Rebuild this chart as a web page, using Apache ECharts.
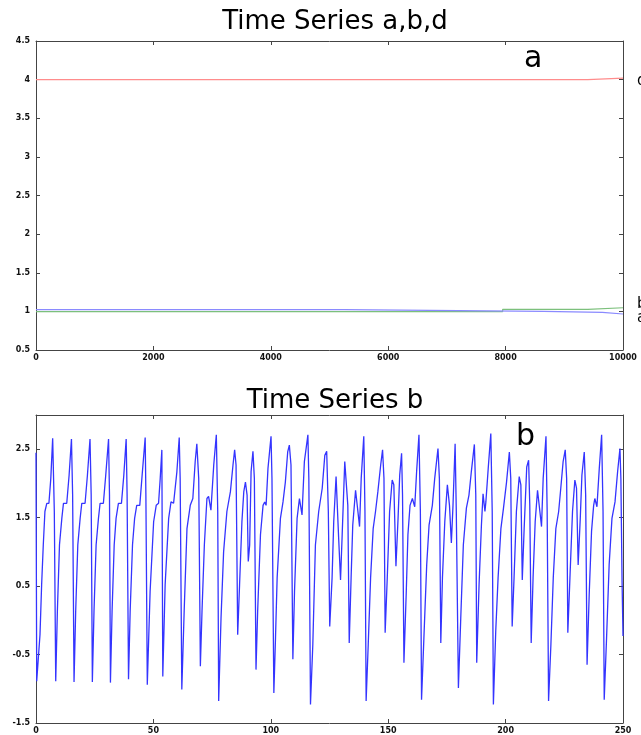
<!DOCTYPE html>
<html><head><meta charset="utf-8">
<script src="https://cdn.jsdelivr.net/npm/echarts@6/dist/echarts.min.js"></script>
<style>html,body{margin:0;padding:0;background:#fff}#c{width:641px;height:735px}</style>
</head><body><div id="c"></div>
<script>
// ---- Top chart: time series a, b, d (step changes) ----
const dTime  = [0, 9400, 10000];
const dValue = [4.0, 4.02, 4.02];
const aTime  = [0, 5250, 8650, 9650, 10000];
const aValue = [1.022, 1.0, 0.987, 0.966, 0.966];
const bTopTime  = [0, 7950, 9400, 10000];
const bTopValue = [0.998, 1.026, 1.047, 1.047];

// ---- Bottom chart: time series b (key points) ----
const bTime = [
 0,0.3,1.7,2.4,3.1,3.8,4.6,5.5,6.3,7.1,7.8,8.4,
 9.1,10.0,11.0,11.7,13.1,14.1,15.1,15.6,16.2,
 16.9,17.8,18.8,19.5,20.9,21.9,23.0,23.5,24.0,
 24.7,25.6,26.6,27.3,28.7,29.7,30.9,31.3,31.7,
 32.4,33.3,34.1,35.1,36.4,37.4,38.4,38.8,39.4,
 40.1,41.1,42.0,42.9,44.2,45.2,46.5,46.8,47.4,
 48.6,50.1,51.2,52.2,52.9,53.6,54.0,
 55.0,56.5,57.5,58.6,60.0,61.0,61.4,62.1,
 63.1,64.3,65.7,66.8,67.8,68.5,69.3,70.0,
 70.7,71.7,72.8,73.5,74.5,75.7,76.8,77.4,77.8,
 78.8,79.9,81.3,82.8,83.9,84.6,85.2,85.9,
 86.7,87.7,88.5,89.2,89.9,90.4,91.0,91.6,92.4,93.0,93.7,
 94.4,95.6,96.7,97.4,98.0,98.8,100.1,100.5,101.3,
 102.0,102.7,104.1,105.2,106.2,107.2,107.9,108.6,109.4,
 110.1,111.2,112.2,113.3,114.3,115.8,116.2,116.9,
 117.9,119.0,120.4,121.9,123.0,123.8,124.5,125.1,
 126.1,126.8,127.8,128.9,129.7,130.4,131.5,132.3,132.8,133.4,
 134.2,134.9,136.1,137.1,137.8,138.5,139.6,140.1,140.6,
 141.5,142.5,143.6,144.6,145.6,146.8,147.6,148.2,148.7,
 149.6,150.6,151.7,152.4,153.3,154.2,154.9,155.7,156.1,156.7,
 157.7,158.4,159.3,160.3,161.3,162.1,163.1,163.7,164.2,
 165.2,166.4,167.4,168.8,169.8,171.2,171.8,172.4,
 173.1,174.1,175.2,176.1,176.9,177.6,178.5,179.0,179.9,
 180.9,182.0,183.3,184.4,185.4,186.7,187.3,187.7,
 188.7,189.7,190.4,191.2,191.6,192.6,193.7,194.3,194.8,
 195.8,196.8,198.0,199.1,200.4,201.6,202.2,202.8,
 203.6,204.6,205.8,206.5,207.1,207.9,209.0,209.8,210.3,210.9,
 211.7,212.6,213.6,214.6,215.3,216.0,217.2,217.7,218.3,
 219.3,220.3,221.4,222.6,223.5,224.5,225.4,226.0,226.5,
 227.4,228.5,229.5,230.2,230.9,231.8,232.5,233.5,234.1,234.7,
 235.6,236.6,237.5,238.0,238.9,239.9,240.9,241.5,242.0,
 243.0,244.1,245.3,246.6,247.7,248.7,249.1,249.6,250.0
];
const bValue = [
 2.45,-0.89,-0.21,0.52,1.10,1.59,1.71,1.71,2.07,2.66,1.59,-0.89,
 0.13,1.10,1.49,1.71,1.71,2.12,2.65,1.83,-0.90,
 0.13,1.10,1.49,1.71,1.71,2.12,2.65,1.83,-0.90,
 0.13,1.10,1.49,1.71,1.71,2.12,2.65,1.83,-0.91,
 0.13,1.10,1.49,1.71,1.71,2.12,2.65,1.83,-0.86,
 0.13,1.10,1.49,1.68,1.68,2.12,2.67,1.83,-0.94,
 0.42,1.44,1.68,1.71,2.07,2.49,-0.82,
 0.52,1.49,1.73,1.71,2.17,2.67,2.07,-1.01,
 0.13,1.34,1.68,1.78,2.32,2.58,2.07,-0.67,
 0.13,1.10,1.78,1.81,1.61,2.27,2.71,1.59,-1.18,
 0.03,1.00,1.59,1.88,2.27,2.49,2.27,-0.21,
 0.52,1.44,1.88,2.02,1.83,0.86,1.10,2.17,2.47,2.07,-0.72,
 0.13,1.25,1.68,1.73,1.68,2.22,2.69,2.07,-1.06,
 -0.26,0.62,1.49,1.73,2.02,2.46,2.56,2.27,-0.57,
 0.42,1.49,1.78,1.54,2.32,2.71,2.07,-1.23,
 -0.35,1.10,1.59,1.93,2.41,2.47,1.59,-0.09,
 0.62,1.44,2.10,1.20,0.59,1.25,2.32,2.34,1.68,-0.33,
 0.62,1.39,1.90,1.59,1.37,2.07,2.69,1.59,-1.18,
 -0.35,0.62,1.34,1.59,1.88,2.27,2.49,2.07,-0.18,
 0.62,1.59,2.05,1.98,0.79,1.49,2.12,2.44,1.83,-0.62,
 0.42,1.25,1.68,1.78,1.66,2.17,2.71,1.59,-1.16,
 -0.26,0.81,1.39,1.68,2.07,2.51,2.07,-0.33,
 0.62,1.44,1.98,1.68,1.13,1.68,2.58,1.59,-0.99,
 0.03,1.10,1.64,1.83,2.17,2.57,1.83,-0.62,
 0.52,1.39,1.85,1.59,1.73,2.22,2.73,1.59,-1.23,
 -0.16,0.62,1.34,1.64,2.02,2.46,2.07,-0.09,
 0.62,1.59,2.10,1.98,0.59,1.34,2.24,2.34,1.68,-0.33,
 0.62,1.44,1.90,1.59,1.37,2.07,2.69,1.59,-1.18,
 -0.35,0.62,1.34,1.59,1.93,2.32,2.49,2.07,-0.18,
 0.62,1.59,2.05,1.93,0.81,1.49,2.12,2.46,1.83,-0.65,
 0.37,1.30,1.68,1.78,1.66,2.22,2.71,1.59,-1.16,
 -0.26,0.81,1.49,1.73,2.17,2.51,2.07,0.57,-0.23
];

// ---- Axis settings ----
const topXTicks = { min: 0, max: 10000, interval: 2000 };
const topYTicks = { min: 0.5, max: 4.5, interval: 0.5 };
const botXTicks = { min: 0, max: 250, interval: 50 };
const botYLabels = [-1.5, -0.5, 0.5, 1.5, 2.5];
const botYRange = { min: -1.5, max: 3 };

const pairs = (xs, ys) => xs.map((x, i) => [x, ys[i]]);
const plain = v => String(v);

const lbl = { fontFamily: 'DejaVu Sans', fontSize: 8, color: '#111', fontWeight: 'bold', formatter: plain };
const lineStyle = { lineStyle: { color: '#444', width: 1 } };
const tick = { show: true, inside: true, length: 4, lineStyle: { color: '#444', width: 1 } };

function ax(extra) {
  return Object.assign({
    type: 'value', splitLine: { show: false }, axisLine: Object.assign({ show: true, onZero: false }, lineStyle),
    axisTick: tick
  }, extra);
}

const titleStyle = { fontFamily: 'DejaVu Sans', fontSize: 26, fontWeight: 'normal', color: '#000' };

const chart = echarts.init(document.getElementById('c'), null, { renderer: 'canvas' });
chart.setOption({
  animation: false,
  backgroundColor: '#fff',
  title: [
    { text: 'Time Series a,b,d', left: 330, top: 4, textAlign: 'center', textStyle: titleStyle },
    { text: 'Time Series b', left: 330, top: 383, textAlign: 'center', textStyle: titleStyle }
  ],
  grid: [
    { left: 36, right: 18, top: 41, height: 309 },
    { left: 36, right: 18, top: 415, height: 311 }
  ],
  xAxis: [
    ax(Object.assign({ gridIndex: 0, position: 'bottom', axisLabel: Object.assign({ margin: 4 }, lbl) }, topXTicks)),
    ax(Object.assign({ gridIndex: 0, position: 'top', axisLabel: { show: false } }, topXTicks)),
    ax(Object.assign({ gridIndex: 1, position: 'bottom', axisLabel: Object.assign({ margin: 4 }, lbl) }, botXTicks)),
    ax(Object.assign({ gridIndex: 1, position: 'top', axisLabel: { show: false } }, botXTicks))
  ],
  yAxis: [
    ax(Object.assign({ gridIndex: 0, position: 'left', axisLabel: Object.assign({ margin: 6 }, lbl) }, topYTicks)),
    ax(Object.assign({ gridIndex: 0, position: 'right', axisLabel: { show: false } }, topYTicks)),
    ax(Object.assign({ gridIndex: 1, position: 'left', interval: 0.5,
      axisLabel: Object.assign({ margin: 6, customValues: botYLabels }, lbl),
      axisTick: Object.assign({}, tick, { customValues: botYLabels }) }, botYRange)),
    ax(Object.assign({ gridIndex: 1, position: 'right', interval: 0.5, axisLabel: { show: false },
      axisTick: Object.assign({}, tick, { customValues: botYLabels }) }, botYRange))
  ],
  graphic: [
    { type: 'text', left: 524, top: 44, style: { text: 'a', font: '30px "DejaVu Sans"', fill: '#000' } },
    { type: 'text', left: 516, top: 422, style: { text: 'b', font: '30px "DejaVu Sans"', fill: '#000' } }
  ],
  series: [
    { name: 'd', type: 'line', xAxisIndex: 0, yAxisIndex: 0, step: 'end', showSymbol: false,
      data: pairs(dTime, dValue), lineStyle: { color: '#ff8c8c', width: 1.2 },
      endLabel: { show: true, formatter: 'd', offset: [6, 3], fontFamily: 'DejaVu Sans', fontSize: 15, color: '#000' } },
    { name: 'b', type: 'line', xAxisIndex: 0, yAxisIndex: 0, step: 'end', showSymbol: false,
      data: pairs(bTopTime, bTopValue), lineStyle: { color: '#7cc07c', width: 1.2 },
      endLabel: { show: true, formatter: 'b', offset: [6, -4], fontFamily: 'DejaVu Sans', fontSize: 15, color: '#000' } },
    { name: 'a', type: 'line', xAxisIndex: 0, yAxisIndex: 0, step: 'end', showSymbol: false,
      data: pairs(aTime, aValue), lineStyle: { color: '#8a8aff', width: 1.2 },
      endLabel: { show: true, formatter: 'a', offset: [6, 4], fontFamily: 'DejaVu Sans', fontSize: 15, color: '#000' } },
    { name: 'series b', type: 'line', xAxisIndex: 2, yAxisIndex: 2, showSymbol: false,
      data: pairs(bTime, bValue), lineStyle: { color: '#3434ff', width: 1.3 } }
  ]
});
</script></body></html>
